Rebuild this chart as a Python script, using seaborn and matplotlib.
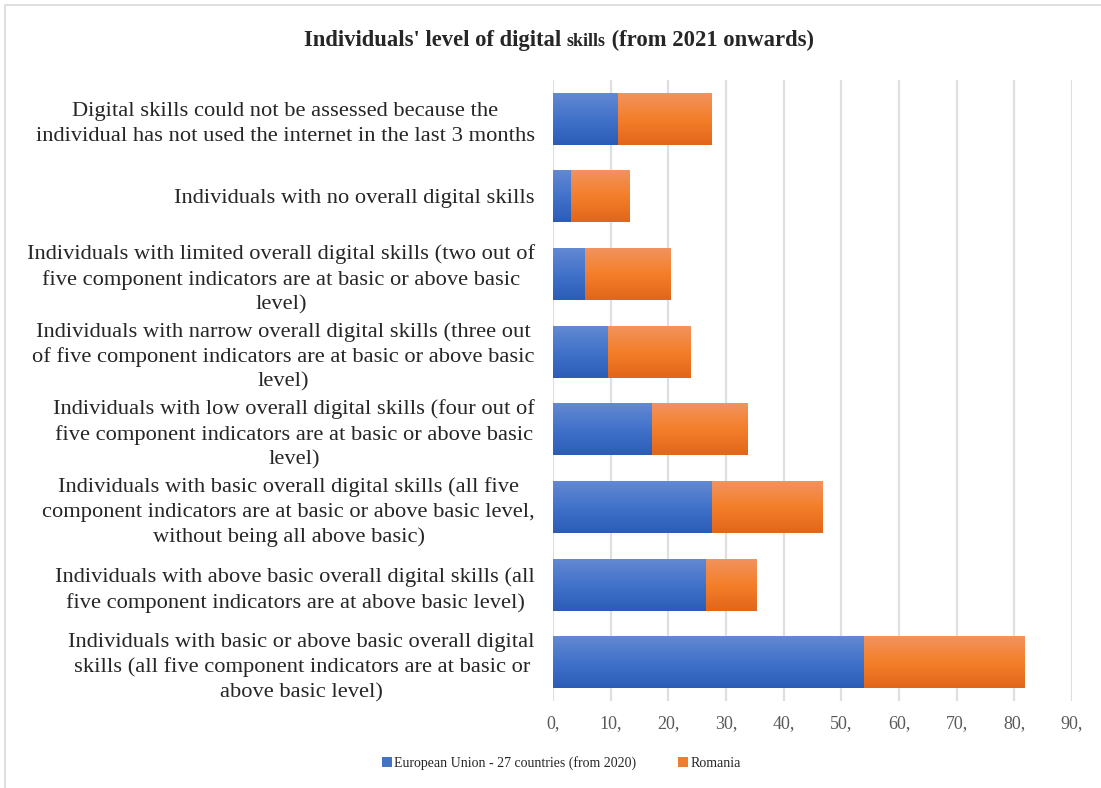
import numpy as np
import pandas as pd
import matplotlib
matplotlib.use('Agg')
import matplotlib.pyplot as plt
import seaborn as sns
from matplotlib.colors import LinearSegmentedColormap
from matplotlib.patches import Patch, Rectangle

categories = [
    'Digital skills could not be assessed because the\nindividual has not used the internet in the last 3 months',
    'Individuals with no overall digital skills',
    'Individuals with limited overall digital skills (two out of\nfive component indicators are at basic or above basic\nlevel)',
    'Individuals with narrow overall digital skills (three out\nof five component indicators are at basic or above basic\nlevel)',
    'Individuals with low overall digital skills (four out of\nfive component indicators are at basic or above basic\nlevel)',
    'Individuals with basic overall digital skills (all five\ncomponent indicators are at basic or above basic level,\nwithout being all above basic)',
    'Individuals with above basic overall digital skills (all\nfive component indicators are at above basic level)',
    'Individuals with basic or above basic overall digital\nskills (all five component indicators are at basic or\nabove basic level)',
]
eu_values = [11.1, 3.1, 5.5, 9.5, 17.1, 27.4, 26.5, 53.9]
ro_values = [16.4, 10.2, 14.9, 14.4, 16.7, 19.3, 8.8, 27.9]
series_names = ['European Union - 27 countries (from 2020)', 'Romania']
x_ticks = [0, 10, 20, 30, 40, 50, 60, 70, 80, 90]

df = pd.DataFrame({'category': categories, 'eu': eu_values, 'ro': ro_values})
df['total'] = df['eu'] + df['ro']

sns.set_style('white')
plt.rcParams['font.family'] = ['Liberation Serif', 'DejaVu Serif']

fig = plt.figure(figsize=(11.01, 7.88), dpi=100)
ax = fig.add_axes([553 / 1101, 1 - 701 / 788, 519 / 1101, 621 / 788])

# stacked bars: total (orange) behind, EU (blue) in front
sns.barplot(data=df, x='total', y='category', color='#ED7D31', width=0.67, ax=ax, zorder=2)
n_orange = len(ax.patches)
sns.barplot(data=df, x='eu', y='category', color='#4472C4', width=0.67, ax=ax, zorder=3)

# gradient fill like the original
grad_orange = LinearSegmentedColormap.from_list('o', ['#F29360', '#F47F2A', '#E2661A'])
grad_blue = LinearSegmentedColormap.from_list('b', ['#6389D2', '#4273CB', '#2B5DB7'])
grad = np.linspace(0, 1, 64).reshape(-1, 1)
for i, p in enumerate(list(ax.patches)):
    cmap = grad_orange if i < n_orange else grad_blue
    x0, y0, w, h = p.get_x(), p.get_y(), p.get_width(), p.get_height()
    im = ax.imshow(grad, cmap=cmap, aspect='auto', origin='upper',
                   extent=(x0, x0 + w, y0 + h, y0), zorder=p.get_zorder())
    im.set_clip_path(p)
    p.set_facecolor('none')
    p.set_edgecolor('none')

ax.set_xlim(0, 90)
ax.set_ylim(len(categories) - 0.5, -0.5)
ax.set_xticks(x_ticks)
ax.set_xticklabels([f'{t},' for t in x_ticks], fontsize=13, color='#595959')
ax.tick_params(axis='x', length=0, pad=10)
ax.tick_params(axis='y', length=0, pad=13)
for lbl in ax.get_yticklabels():
    lbl.set_fontsize(16.2)
    lbl.set_multialignment('center')
    lbl.set_linespacing(1.38)
ax.grid(axis='x', color='#DCDFE4', linewidth=1.6, zorder=0)
ax.set_axisbelow(True)
for s in ax.spines.values():
    s.set_visible(False)
ax.set_xlabel('')
ax.set_ylabel('')

# title with the smaller "skills" word, as in the original
parts = [("Individuals' level of digital ", 16.3), ('skills', 12.9), (' (from 2021 onwards)', 16.3)]
renderer = fig.canvas.get_renderer()
texts = [fig.text(0, 1 - 40 / 788, s, ha='left', va='baseline', fontsize=fs, fontweight='bold')
         for s, fs in parts]
widths = [t.get_window_extent(renderer).width for t in texts]
x = 559 - sum(widths) / 2
for t, w in zip(texts, widths):
    t.set_position((x / 1101, 1 - 46 / 788))
    x += w

handles = [Patch(facecolor='#4472C4', edgecolor='none'), Patch(facecolor='#ED7D31', edgecolor='none')]
fig.legend(handles, series_names, loc='center', bbox_to_anchor=(0.51, 1 - 763 / 788), ncol=2,
           frameon=False, fontsize=10, handlelength=0.7, handleheight=0.7,
           handletextpad=0.2, columnspacing=3.0)

fig.patches.append(Rectangle((5 / 1101, -0.01), 1.1, 1 - 5 / 788 + 0.01, transform=fig.transFigure,
                             fill=False, edgecolor='#D9D9D9', linewidth=1.2))

fig.savefig('out.png', dpi=100)
